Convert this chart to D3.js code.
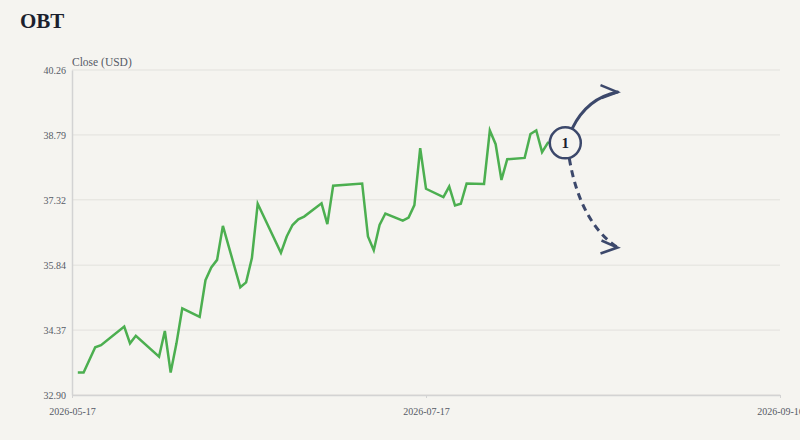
<!DOCTYPE html>
<html>
<head>
<meta charset="utf-8">
<script src="https://cdn.jsdelivr.net/npm/d3@7"></script>
<style>
  html, body { margin: 0; padding: 0; background: #f5f4f0; }
  svg { display: block; }
</style>
</head>
<body>
<svg id="chart" width="800" height="440"></svg>
<script>
const title = "OBT";
const yLabel = "Close (USD)";
const dates = [
  "2026-05-18","2026-05-19","2026-05-21","2026-05-22","2026-05-26","2026-05-27","2026-05-28",
  "2026-06-01","2026-06-02","2026-06-03","2026-06-04","2026-06-05","2026-06-08","2026-06-09",
  "2026-06-10","2026-06-11","2026-06-12","2026-06-15","2026-06-16","2026-06-17","2026-06-18",
  "2026-06-22","2026-06-23","2026-06-24","2026-06-25","2026-06-26","2026-06-29","2026-06-30",
  "2026-07-01","2026-07-06","2026-07-07","2026-07-08","2026-07-09","2026-07-10","2026-07-13",
  "2026-07-14","2026-07-15","2026-07-16","2026-07-17","2026-07-20","2026-07-21","2026-07-22",
  "2026-07-23","2026-07-24","2026-07-27","2026-07-28","2026-07-29","2026-07-30","2026-07-31",
  "2026-08-03","2026-08-04","2026-08-05","2026-08-06","2026-08-07","2026-08-10"
];
const closes = [
  33.41,33.41,33.98,34.03,34.45,34.07,34.24,
  33.77,34.35,33.41,34.07,34.86,34.67,35.50,
  35.79,35.96,36.73,35.34,35.45,36.00,37.23,
  36.12,36.49,36.75,36.88,36.94,37.24,36.77,
  37.64,37.69,36.49,36.18,36.75,37.01,36.85,
  36.92,37.20,38.49,37.57,37.38,37.62,37.19,
  37.23,37.69,37.68,38.89,38.58,37.77,38.24,
  38.27,38.81,38.89,38.40,38.61,38.61
];
const yTicks = [32.90, 34.37, 35.84, 37.32, 38.79, 40.26];
const xTicks = ["2026-05-17", "2026-07-17", "2026-09-16"];
const xDomain = ["2026-05-17", "2026-09-16"];
const yDomain = [32.90, 40.26];
// annotation: scenario arrows from last point
const annotationLabel = "1";
const scenarioEndDate = "2026-08-19";
const scenarioUp = 39.76;
const scenarioDown = 36.24;

const parse = d3.utcParse("%Y-%m-%d");
const data = dates.map((d, i) => ({ date: parse(d), value: closes[i] }));

const svg = d3.select("#chart");
const W = 800, H = 440;
const m = { left: 72, right: 20, top: 70, bottom: 45 };

svg.append("rect").attr("width", W).attr("height", H).attr("fill", "#f5f4f0");

const x = d3.scaleUtc().domain(xDomain.map(parse)).range([m.left, W - m.right]);
const y = d3.scaleLinear().domain(yDomain).range([H - m.bottom, m.top]);

const font = "'Liberation Serif', 'DejaVu Serif', serif";

// title
svg.append("text").attr("x", 20).attr("y", 28)
  .attr("font-family", font).attr("font-weight", "bold").attr("font-size", 21)
  .attr("fill", "#1b1f2e").text(title);

// y label
svg.append("text").attr("x", m.left).attr("y", 66)
  .attr("font-family", font).attr("font-size", 11.5).attr("fill", "#555a66").text(yLabel);

// gridlines
svg.append("g").selectAll("line").data(yTicks).join("line")
  .attr("x1", m.left).attr("x2", W - m.right)
  .attr("y1", d => y(d)).attr("y2", d => y(d))
  .attr("stroke", "#e2e1dd").attr("stroke-width", 1);

// y axis
const yAxis = svg.append("g").attr("transform", `translate(${m.left},0)`)
  .call(d3.axisLeft(y).tickValues(yTicks).tickFormat(d3.format(".2f")).tickSize(0).tickPadding(6));
yAxis.select(".domain").attr("stroke", "#d3d3d3").attr("stroke-width", 1.5);
yAxis.selectAll("text").attr("font-family", font).attr("font-size", 10).attr("fill", "#555a66");

// x axis
const xAxis = svg.append("g").attr("transform", `translate(0,${H - m.bottom})`)
  .call(d3.axisBottom(x).tickValues(xTicks.map(parse)).tickFormat(d3.utcFormat("%Y-%m-%d")).tickSize(3).tickSizeOuter(0).tickPadding(10));
xAxis.select(".domain").attr("stroke", "#d3d3d3").attr("stroke-width", 1.5);
xAxis.selectAll(".tick line").attr("stroke", "#d3d3d3");
xAxis.selectAll("text").attr("font-family", font).attr("font-size", 10).attr("fill", "#555a66");

// line
const line = d3.line().x(d => x(d.date)).y(d => y(d.value));
svg.append("path").datum(data).attr("d", line)
  .attr("fill", "none").attr("stroke", "#4caf50").attr("stroke-width", 2.5)
  .attr("stroke-linejoin", "miter");

// annotation
const last = data[data.length - 1];
const cx = x(last.date), cy = y(last.value);
const r = 15.5;
const navy = "#3c486b";
const ex = x(parse(scenarioEndDate));
const eyUp = y(scenarioUp), eyDown = y(scenarioDown);

const ann = svg.append("g");
// up arrow (solid)
const upStart = [cx + 7, cy - r + 1];
ann.append("path")
  .attr("d", `M${upStart[0]},${upStart[1]} Q${cx + 22},${eyUp + 6} ${ex},${eyUp}`)
  .attr("fill", "none").attr("stroke", navy).attr("stroke-width", 3).attr("stroke-linecap", "round");
ann.append("path")
  .attr("d", `M${ex - 17},${eyUp - 7} L${ex},${eyUp} L${ex - 16},${eyUp + 6}`)
  .attr("fill", "none").attr("stroke", navy).attr("stroke-width", 2.5).attr("stroke-linejoin", "miter");
// down arrow (dashed)
const dnStart = [cx + 4, cy + r];
ann.append("path")
  .attr("d", `M${dnStart[0]},${dnStart[1]} Q${cx + 15},${eyDown - 25} ${ex},${eyDown}`)
  .attr("fill", "none").attr("stroke", navy).attr("stroke-width", 3).attr("stroke-dasharray", "7,5");
ann.append("path")
  .attr("d", `M${ex - 16},${eyDown - 7} L${ex},${eyDown} L${ex - 17},${eyDown + 6}`)
  .attr("fill", "none").attr("stroke", navy).attr("stroke-width", 2.5).attr("stroke-linejoin", "miter");
// circle
ann.append("circle").attr("cx", cx).attr("cy", cy).attr("r", r)
  .attr("fill", "#f5f4f0").attr("stroke", navy).attr("stroke-width", 2.5);
ann.append("text").attr("x", cx).attr("y", cy + 5).attr("text-anchor", "middle")
  .attr("font-family", font).attr("font-weight", "bold").attr("font-size", 15)
  .attr("fill", "#1b1f2e").text(annotationLabel);
</script>
</body>
</html>
